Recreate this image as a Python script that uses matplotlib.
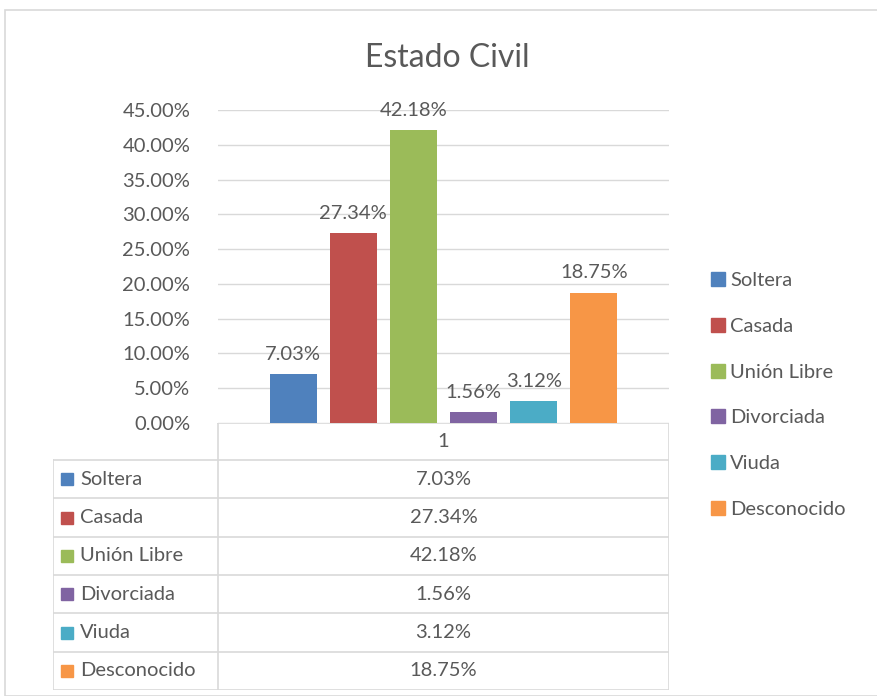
import matplotlib.pyplot as plt
from matplotlib.patches import Rectangle
from matplotlib.ticker import PercentFormatter

categories = ['Soltera', 'Casada', 'Unión Libre', 'Divorciada', 'Viuda', 'Desconocido']
values = [7.03, 27.34, 42.18, 1.56, 3.12, 18.75]
colors = ['#4F81BD', '#C0504D', '#9BBB59', '#8064A2', '#4BACC6', '#F79646']
yticks = [0, 5, 10, 15, 20, 25, 30, 35, 40, 45]
column_label = '1'

plt.rcParams['font.family'] = ['Lato', 'DejaVu Sans']
text_color = '#595959'
grid_color = '#D9D9D9'
fs = 14.5

W, H = 878, 696
fig = plt.figure(figsize=(W / 100, H / 100), dpi=100)

def px_box(x0, y0, x1, y1):
    # pixel box (top-left origin) -> figure fraction [left, bottom, width, height]
    return [x0 / W, 1 - y1 / H, (x1 - x0) / W, (y1 - y0) / H]

# outer chart frame
fig.patches.append(Rectangle((5 / W, 0), 1, 1 - 10 / H, transform=fig.transFigure,
                             fill=False, edgecolor=grid_color, lw=1.2))

# bar chart
ax = fig.add_axes(px_box(218, 110, 669, 423))
x = range(len(categories))
bars = ax.bar(x, values, width=0.78, color=colors)
ax.set_xlim(-1.25, len(categories) - 1 + 1.25)
ax.set_ylim(0, 45)
ax.set_yticks(yticks)
ax.yaxis.set_major_formatter(PercentFormatter(decimals=2))
ax.tick_params(axis='y', length=0, labelsize=fs, colors=text_color, pad=20)
ax.set_xticks([])
ax.grid(axis='y', color=grid_color, lw=1)
ax.set_axisbelow(True)
for s in ax.spines.values():
    s.set_visible(False)
for b, v in zip(bars, values):
    ax.annotate(f'{v:.2f}%', (b.get_x() + b.get_width() / 2, v), xytext=(0, 8),
                textcoords='offset points', ha='center', va='bottom',
                fontsize=fs, color=text_color)

fig.text(447 / W, 1 - 58 / H, 'Estado Civil', ha='center', va='center',
         fontsize=23, color=text_color)

# data table
tab = fig.add_axes(px_box(53, 423, 669, 690))
tab.set_xlim(53, 669)
tab.set_ylim(690, 423)
tab.axis('off')
row_h = (690 - 460) / len(categories)
tab.plot([218, 218], [423, 690], color=grid_color, lw=1.2)
tab.plot([669, 669], [423, 690], color=grid_color, lw=1.2)
tab.plot([53, 53], [460, 690], color=grid_color, lw=1.2)
tab.plot([218, 669], [423, 423], color=grid_color, lw=1.2)
tab.text(443.5, 441.5, column_label, ha='center', va='center', fontsize=fs, color=text_color)
for i, (cat, val, col) in enumerate(zip(categories, values, colors)):
    top = 460 + i * row_h
    tab.plot([53, 669], [top, top], color=grid_color, lw=1.2)
    cy = top + row_h / 2
    tab.add_patch(Rectangle((61, cy - 6), 12, 12, color=col))
    tab.text(80, cy, cat, ha='left', va='center', fontsize=fs, color=text_color)
    tab.text(443.5, cy, f'{val:.2f}%', ha='center', va='center', fontsize=fs, color=text_color)
tab.plot([53, 669], [690, 690], color=grid_color, lw=1.2)

# legend
handles = [Rectangle((0, 0), 1, 1, color=c) for c in colors]
fig.legend(handles, categories, loc='upper left', bbox_to_anchor=(693 / W, 1 - 254 / H),
           frameon=False, fontsize=fs, labelcolor=text_color, handlelength=0.7,
           handleheight=0.7, handletextpad=0.25, labelspacing=1.42)

fig.savefig('out.png', dpi=100)
